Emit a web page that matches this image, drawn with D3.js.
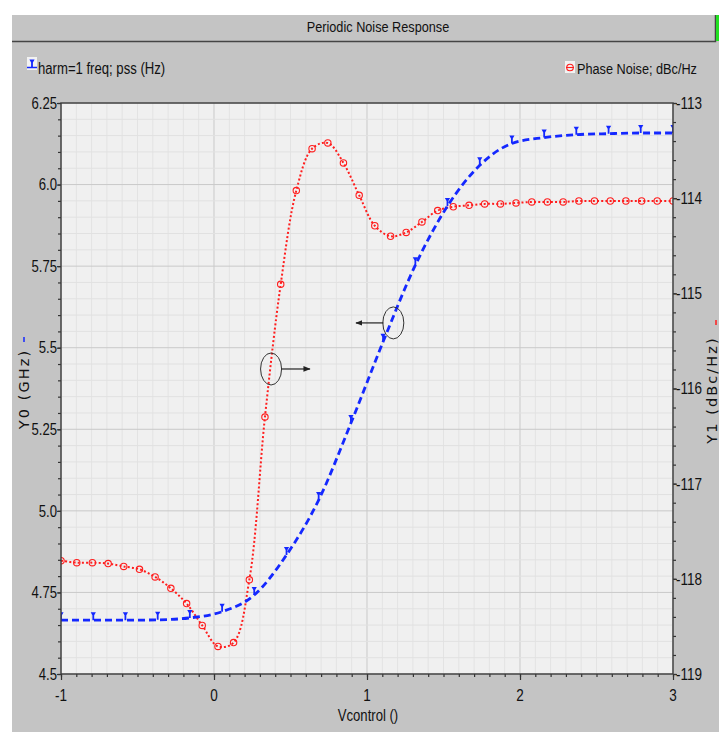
<!DOCTYPE html>
<html><head><meta charset="utf-8">
<script src="https://cdn.jsdelivr.net/npm/d3@7"></script>
<style>
html,body{margin:0;padding:0;background:#fff;}
svg{display:block;}
</style></head>
<body>
<script>
// ---------- DATA ----------
const title = "Periodic Noise Response";
const legendLeft = "harm=1 freq; pss (Hz)";
const legendRight = "Phase Noise; dBc/Hz";
const xTitle = "Vcontrol ()";
const yLeftTitle = "Y0 (GHz)";
const yRightTitle = "Y1 (dBc/Hz)";

const xTicks = [-1, 0, 1, 2, 3];
const xTickLabels = ["-1", "0", "1", "2", "3"];
const yLeftTicks = [4.5, 4.75, 5.0, 5.25, 5.5, 5.75, 6.0, 6.25];
const yLeftTickLabels = ["4.5", "4.75", "5.0", "5.25", "5.5", "5.75", "6.0", "6.25"];
const yRightTicks = [-113, -114, -115, -116, -117, -118, -119];
const yRightTickLabels = ["-113", "-114", "-115", "-116", "-117", "-118", "-119"];

// Series 1: harm=1 freq (GHz), left axis
const freqX = [-1.000, -0.789, -0.579, -0.368, -0.158, 0.053, 0.263, 0.474, 0.684, 0.895,
               1.105, 1.316, 1.526, 1.737, 1.947, 2.158, 2.368, 2.579, 2.789, 3.000];
const freqY = [4.665, 4.665, 4.665, 4.666, 4.672, 4.691, 4.742, 4.865, 5.033, 5.269,
               5.518, 5.753, 5.934, 6.059, 6.126, 6.144, 6.153, 6.156, 6.158, 6.158];

// Series 2: Phase noise (dBc/Hz), right axis
const pnX = [-1.000, -0.897, -0.795, -0.692, -0.590, -0.487, -0.385, -0.282, -0.179, -0.077,
             0.026, 0.128, 0.231, 0.333, 0.436, 0.538, 0.641, 0.744, 0.846, 0.949,
             1.051, 1.154, 1.256, 1.359, 1.462, 1.564, 1.667, 1.769, 1.872, 1.974,
             2.077, 2.179, 2.282, 2.385, 2.487, 2.590, 2.692, 2.795, 2.897, 3.000];
const pnY = [-117.81, -117.83, -117.83, -117.84, -117.87, -117.90, -117.98, -118.10, -118.26, -118.49,
             -118.71, -118.67, -118.01, -116.30, -114.905, -113.92, -113.48, -113.42, -113.63, -113.97,
             -114.29, -114.40, -114.36, -114.25, -114.13, -114.09, -114.075, -114.06, -114.06, -114.05,
             -114.04, -114.04, -114.04, -114.03, -114.03, -114.03, -114.03, -114.03, -114.03, -114.03];

// annotations (ellipse centre in data coords, arrow start/end x in data coords)
const annotations = [
  {axis: "right", x: 0.373, y: -115.795, arrowFrom: 0.444, arrowTo: 0.627},
  {axis: "left",  x: 1.172, y: 5.576,    arrowFrom: 1.107, arrowTo: 0.928}
];

// ---------- LAYOUT ----------
const W = 719, H = 732;
const P = {left: 61, right: 673, top: 103, bottom: 674};
const SANS = "'Liberation Sans',Arial,sans-serif";
const WIDE = "'DejaVu Sans',Verdana,sans-serif";
const NX = 0.82; // horizontal squeeze for a narrow face
const BLUE = "#1428ff", RED = "#ff1e1e";

const x = d3.scaleLinear().domain([-1, 3]).range([P.left, P.right]);
const yL = d3.scaleLinear().domain([4.5, 6.25]).range([P.bottom, P.top]);
const yR = d3.scaleLinear().domain([-119, -113]).range([P.bottom, P.top]);

const svg = d3.select("body").append("svg").attr("width", W).attr("height", H);

function ntext(parent, px, py, str, size, anchor, dy) {
  return parent.append("text")
    .attr("transform", `translate(${px},${py}) scale(${NX},1)`)
    .attr("text-anchor", anchor || "start")
    .attr("dy", dy || 0)
    .attr("font-family", SANS).attr("font-size", size).attr("fill", "#111")
    .text(str);
}

// backgrounds
svg.append("rect").attr("width", W).attr("height", H).attr("fill", "#ffffff");
svg.append("rect").attr("x", 12).attr("y", 15).attr("width", W - 12).attr("height", H - 15).attr("fill", "#c4c4c4");
svg.append("path").attr("d", `M12,41.5 H715.5 V15`).attr("fill", "none").attr("stroke", "#454545").attr("stroke-width", 1.5);
svg.append("rect").attr("x", 716).attr("y", 15).attr("width", 3).attr("height", 26).attr("fill", "#22e022");

ntext(svg, 378, 32, title, 15.5, "middle");

// plot background
svg.append("rect").attr("x", P.left).attr("y", P.top).attr("width", P.right - P.left).attr("height", P.bottom - P.top)
  .attr("fill", "#f0f0f0");

// grid
const g = svg.append("g");
const xMinor = d3.range(-10, 31).map(i => i / 10);
const yMinor = d3.range(90, 126).map(i => i / 20);
const yRMinor = d3.range(-595, -564).map(i => i / 5);
g.selectAll(".vx").data(xMinor).join("line")
  .attr("x1", d => x(d)).attr("x2", d => x(d)).attr("y1", P.top).attr("y2", P.bottom)
  .attr("stroke", d => Math.abs(d - Math.round(d)) < 1e-6 ? "#c9c9c9" : "#e3e3e3").attr("stroke-width", 1);
g.selectAll(".hy").data(yMinor).join("line")
  .attr("y1", d => yL(d)).attr("y2", d => yL(d)).attr("x1", P.left).attr("x2", P.right)
  .attr("stroke", d => Math.abs(d * 4 - Math.round(d * 4)) < 1e-6 ? "#c9c9c9" : "#e1e1e1").attr("stroke-width", 1);

// axes ticks
function styleAxis(sel) {
  sel.select(".domain").remove();
  sel.selectAll("line").attr("stroke", "#333").attr("stroke-width", 1.2);
}
svg.append("g").attr("transform", `translate(${P.left},0)`)
  .call(d3.axisLeft(yL).tickValues(yMinor).tickSize(3).tickFormat("")).call(styleAxis);
svg.append("g").attr("transform", `translate(0,${P.bottom})`)
  .call(d3.axisBottom(x).tickValues(xMinor).tickSize(3).tickFormat("")).call(styleAxis);
svg.append("g").attr("transform", `translate(${P.right},0)`)
  .call(d3.axisRight(yR).tickValues(yRMinor).tickSize(3).tickFormat("")).call(styleAxis);
svg.append("g").attr("transform", `translate(${P.left},0)`)
  .call(d3.axisLeft(yL).tickValues(yLeftTicks).tickSize(4).tickFormat("")).call(styleAxis);
svg.append("g").attr("transform", `translate(0,${P.bottom})`)
  .call(d3.axisBottom(x).tickValues(xTicks).tickSize(6).tickFormat("")).call(styleAxis);
svg.append("g").attr("transform", `translate(${P.right},0)`)
  .call(d3.axisRight(yR).tickValues(yRightTicks).tickSize(4).tickFormat("")).call(styleAxis);

// tick labels
const tl = svg.append("g");
yLeftTicks.forEach((v, i) => ntext(tl, P.left - 4, yL(v), yLeftTickLabels[i], 16, "end", "0.36em"));
xTicks.forEach((v, i) => ntext(tl, x(v), 701, xTickLabels[i], 16.5, "middle"));
yRightTicks.forEach((v, i) => ntext(tl, P.right + 3, yR(v), yRightTickLabels[i], 16.5, "start", "0.36em"));

// axis titles
ntext(svg, 368, 721, xTitle, 16, "middle");
svg.append("text").attr("transform", "translate(29,389) rotate(-90)").attr("text-anchor", "middle")
  .attr("font-family", WIDE).attr("font-size", 14.5).attr("letter-spacing", 2.1).attr("fill", "#111").text(yLeftTitle);
svg.append("line").attr("x1", 24).attr("x2", 24).attr("y1", 337).attr("y2", 342).attr("stroke", BLUE).attr("stroke-width", 1.5);
svg.append("text").attr("transform", "translate(717,390) rotate(-90)").attr("text-anchor", "middle")
  .attr("font-family", WIDE).attr("font-size", 14.5).attr("letter-spacing", 2.1).attr("fill", "#111").text(yRightTitle);
svg.append("line").attr("x1", 716).attr("x2", 716).attr("y1", 320).attr("y2", 325).attr("stroke", RED).attr("stroke-width", 1.5);

// clip
svg.append("clipPath").attr("id", "clip").append("rect")
  .attr("x", P.left).attr("y", P.top).attr("width", P.right - P.left).attr("height", P.bottom - P.top);
const plot = svg.append("g").attr("clip-path", "url(#clip)");

const freqData = freqX.map((d, i) => [d, freqY[i]]);
const pnData = pnX.map((d, i) => [d, pnY[i]]);

// phase noise line (dotted red)
plot.append("path").datum(pnData)
  .attr("d", d3.line().x(d => x(d[0])).y(d => yR(d[1])).curve(d3.curveCatmullRom.alpha(0.5)))
  .attr("fill", "none").attr("stroke", RED).attr("stroke-width", 2).attr("stroke-dasharray", "2,2.2");
plot.selectAll(".pm").data(pnData).join("circle")
  .attr("cx", d => x(d[0])).attr("cy", d => yR(d[1])).attr("r", 3.2)
  .attr("fill", "none").attr("stroke", RED).attr("stroke-width", 1.1);

// frequency line (dashed blue)
plot.append("path").datum(freqData)
  .attr("d", d3.line().x(d => x(d[0])).y(d => yL(d[1])).curve(d3.curveMonotoneX))
  .attr("fill", "none").attr("stroke", BLUE).attr("stroke-width", 2.8).attr("stroke-dasharray", "7,4");
const blueMarker = "M-2.6,-8 L2.6,-8 L0.9,-5 L0.9,0 L-0.9,0 L-0.9,-5 Z";
plot.selectAll(".fm").data(freqData).join("path")
  .attr("transform", d => `translate(${x(d[0])},${yL(d[1])})`)
  .attr("d", blueMarker).attr("fill", BLUE);

// frame
svg.append("rect").attr("x", P.left).attr("y", P.top).attr("width", P.right - P.left).attr("height", P.bottom - P.top)
  .attr("fill", "none").attr("stroke", "#3a3a3a").attr("stroke-width", 1.4);

// annotations
const defs = svg.append("defs");
defs.append("marker").attr("id", "arr").attr("viewBox", "0 0 10 10").attr("refX", 9).attr("refY", 5)
  .attr("markerWidth", 6).attr("markerHeight", 6).attr("orient", "auto-start-reverse")
  .append("path").attr("d", "M0,1 L10,5 L0,9 Z").attr("fill", "#222");
annotations.forEach(a => {
  const ys = a.axis === "left" ? yL : yR;
  svg.append("ellipse").attr("cx", x(a.x)).attr("cy", ys(a.y)).attr("rx", 10.5).attr("ry", 16)
    .attr("fill", "none").attr("stroke", "#333").attr("stroke-width", 1);
  svg.append("line").attr("x1", x(a.arrowFrom)).attr("x2", x(a.arrowTo))
    .attr("y1", ys(a.y)).attr("y2", ys(a.y))
    .attr("stroke", "#222").attr("stroke-width", 1.2).attr("marker-end", "url(#arr)");
});

// legends
const lg1 = svg.append("g").attr("transform", "translate(27,57)");
lg1.append("rect").attr("width", 10).attr("height", 13).attr("fill", "#f2f2f2");
lg1.append("line").attr("x1", 0).attr("x2", 10).attr("y1", 10.5).attr("y2", 10.5).attr("stroke", BLUE).attr("stroke-width", 1.5);
lg1.append("path").attr("transform", "translate(5,10.5)").attr("d", blueMarker).attr("fill", BLUE);
ntext(svg, 38, 74, legendLeft, 16, "start");

const lg2 = svg.append("g").attr("transform", "translate(565,61)");
lg2.append("rect").attr("width", 10).attr("height", 12).attr("fill", "#f2f2f2");
lg2.append("circle").attr("cx", 5).attr("cy", 6.5).attr("r", 3.3).attr("fill", "none").attr("stroke", RED).attr("stroke-width", 1.1);
lg2.append("line").attr("x1", 1).attr("x2", 9).attr("y1", 6.5).attr("y2", 6.5).attr("stroke", RED).attr("stroke-width", 1.1);
ntext(svg, 577, 74, legendRight, 15.5, "start");
</script>
</body></html>
